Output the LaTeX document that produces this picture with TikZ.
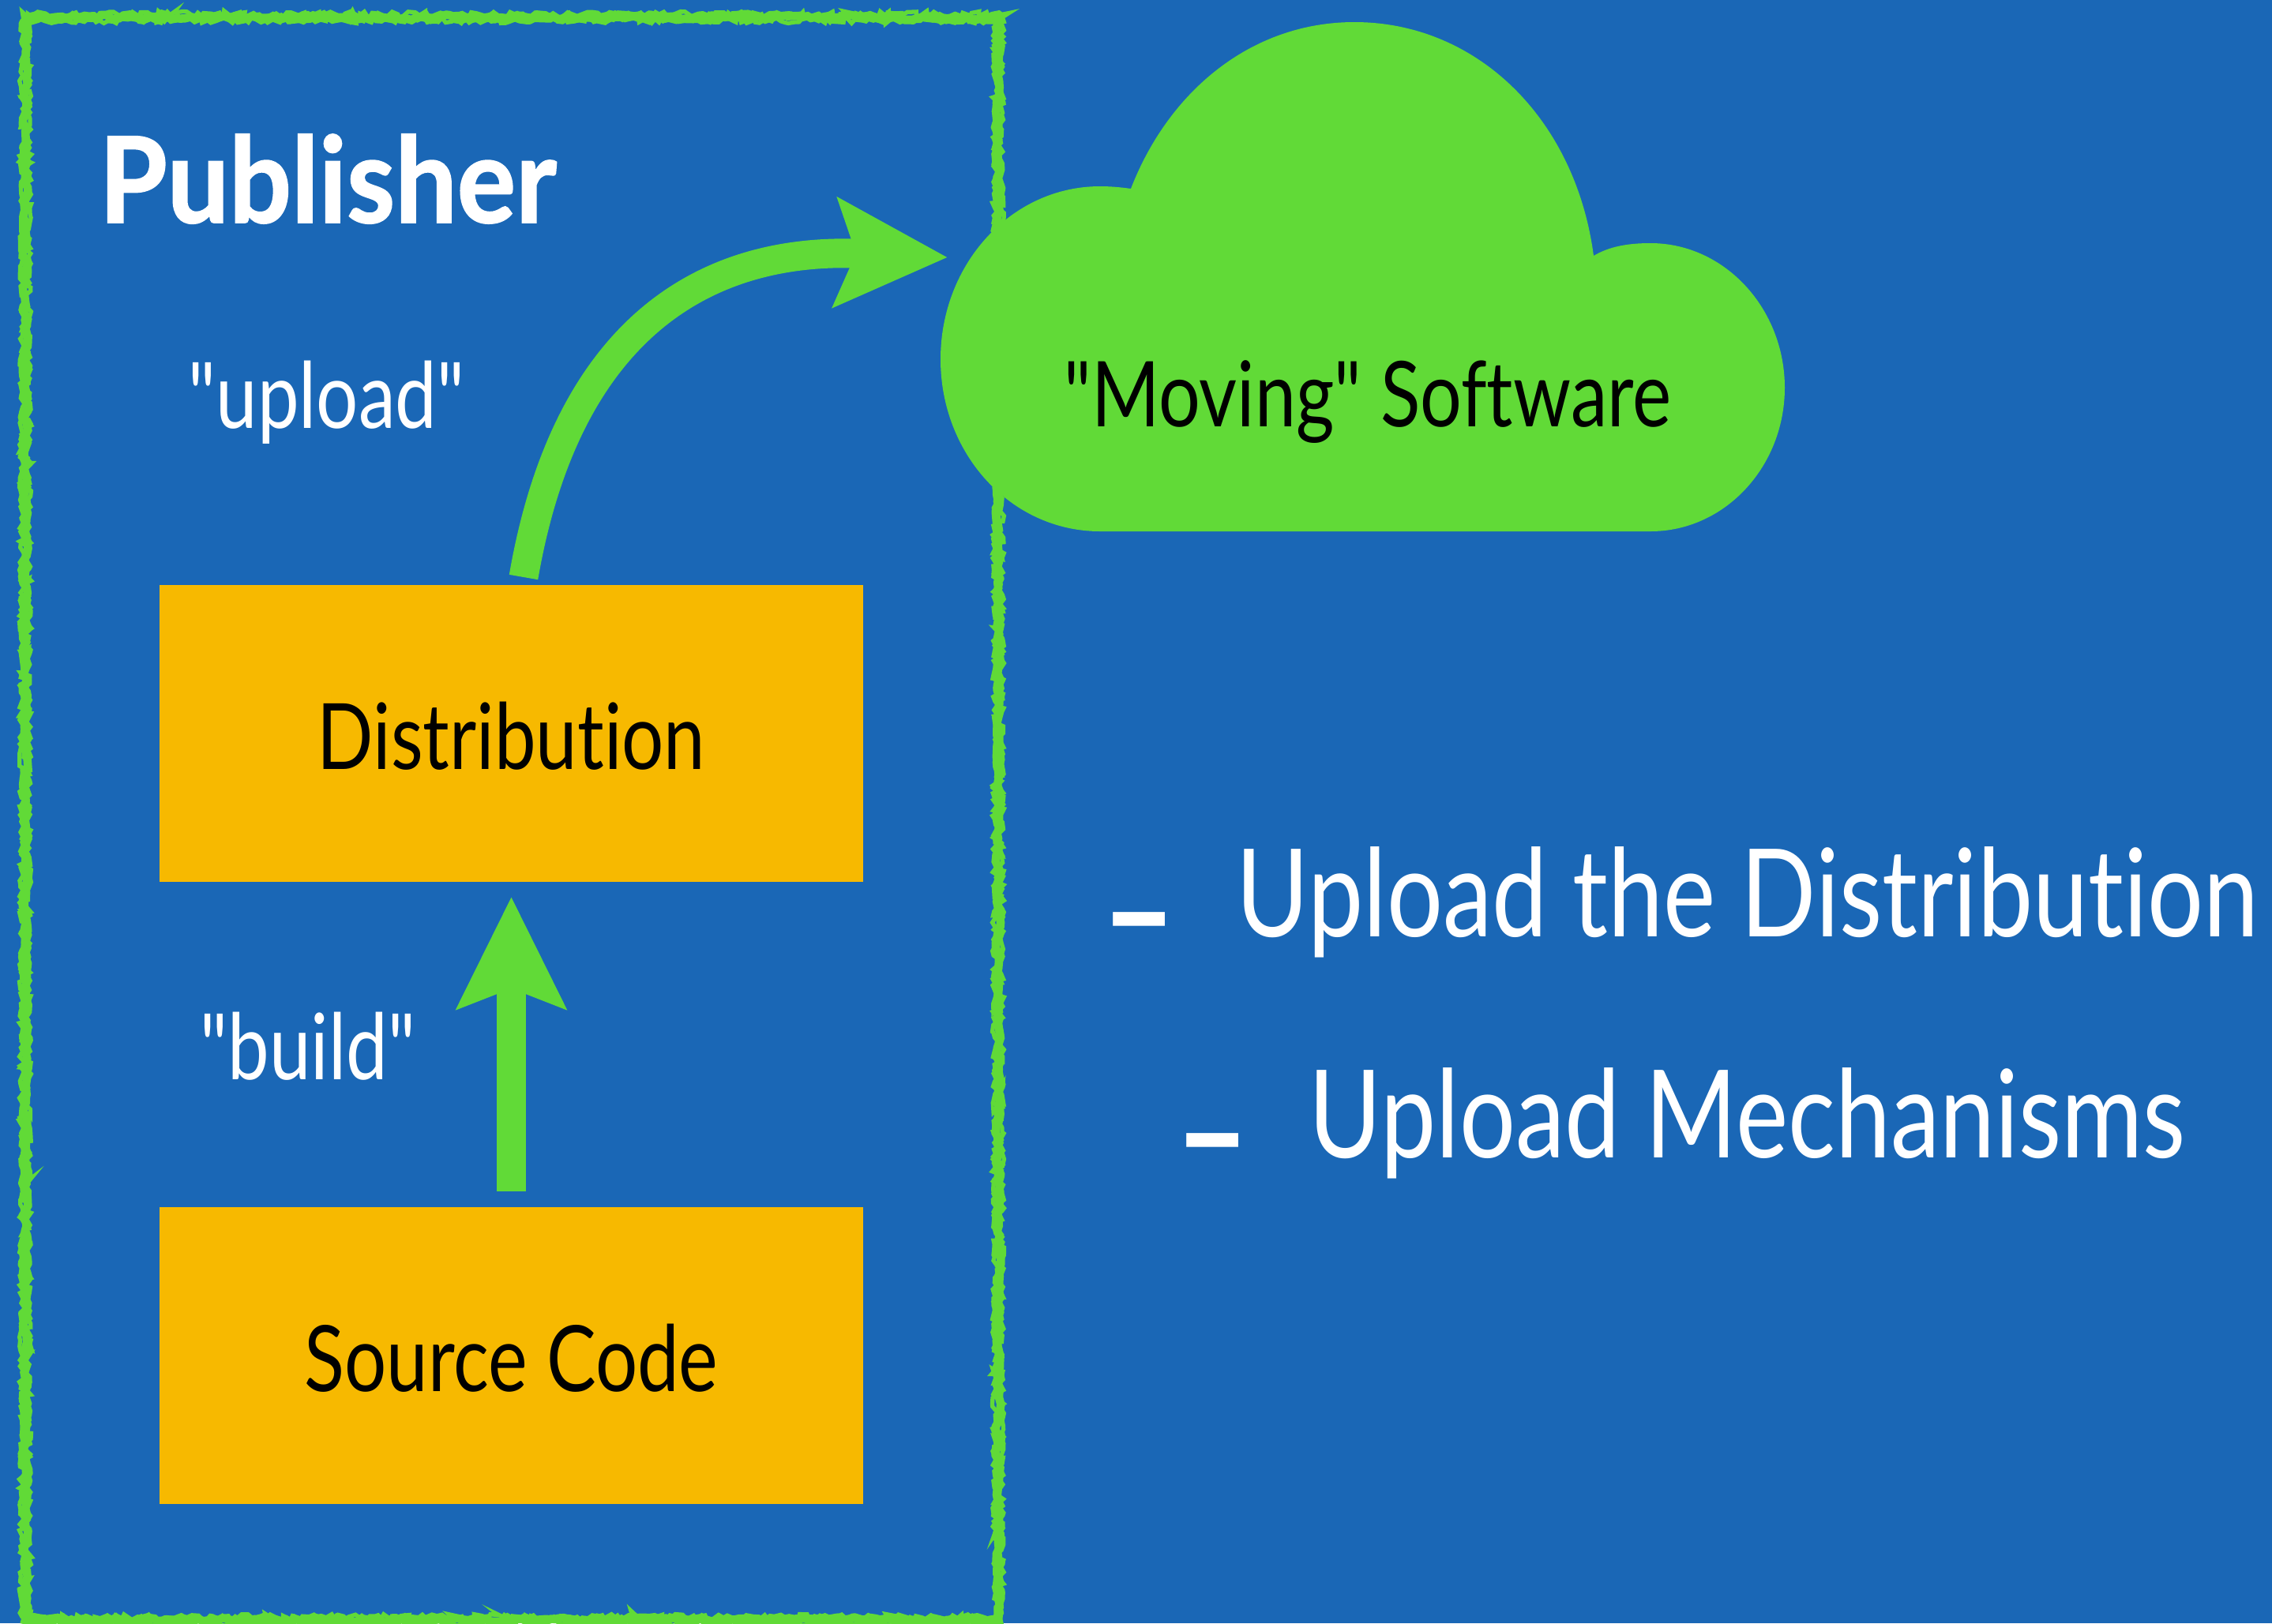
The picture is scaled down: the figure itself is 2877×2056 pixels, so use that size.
\documentclass[tikz,border=0pt]{standalone}
\usepackage{fontspec}
\setmainfont[FakeStretch=0.81,Ligatures={TeXOff,NoCommon}]{Lato}
\newfontfamily\titlefont[FakeStretch=0.92,FakeBold=1.2]{Lato Bold}
\usetikzlibrary{arrows.meta,decorations.pathmorphing}
\definecolor{slideblue}{HTML}{1A67B6}
\definecolor{flowgreen}{HTML}{61DA37}
\definecolor{boxamber}{HTML}{F7B900}

\tikzset{
    codebox/.style={fill=boxamber, minimum width=8.91cm, minimum height=3.76cm, inner sep=0pt, text=black, text height=30pt, text depth=4pt, font=\fontsize{33}{36}\selectfont},
    flow/.style={draw=flowgreen, line width=10.5pt, -{Stealth[length=40pt,width=38.5pt,inset=7pt,flowgreen]}},
    verb/.style={text=white, anchor=base west, inner sep=0pt, font=\fontsize{33}{36}\selectfont},
    point/.style={text=white, anchor=base west, inner sep=0pt, font=\fontsize{44}{46}\selectfont},
    dashmark/.style={text=white, anchor=base west, inner sep=0pt, font=\fontsize{57}{60}\selectfont\bfseries},
    chalk/.style={draw=flowgreen, decorate, decoration={random steps, segment length=1.5pt, amplitude=1pt}}
}

\begin{document}
\begin{tikzpicture}[x=0.01cm, y=-0.01cm]
\useasboundingbox (0,0) rectangle (2877,2056);
\fill[slideblue] (0,0) rectangle (2877,2056);

% Publisher frame
\pgfmathsetseed{7}
\draw[chalk, line width=3pt] (32,22) rectangle (1264,2052);
\draw[chalk, line width=1.5pt] (28,26) rectangle (1260,2048);
\draw[chalk, line width=1.5pt] (36,18) rectangle (1268,2056);

% Cloud
\fill[flowgreen] (1393,673) -- (2090,673)
    .. controls (2184,673) and (2260,591) .. (2260,491)
    .. controls (2260,391) and (2184,308) .. (2090,308)
    .. controls (2062,308) and (2038,312) .. (2018,324)
    .. controls (1995,150) and (1870,28) .. (1715,28)
    .. controls (1585,28) and (1480,115) .. (1432,239)
    .. controls (1418,237) and (1405,236) .. (1393,236)
    .. controls (1281,236) and (1191,334) .. (1191,455)
    .. controls (1191,576) and (1281,673) .. (1393,673) -- cycle;
\node[anchor=base west, inner sep=0pt, text=black, font=\fontsize{32.7}{36}\selectfont] (cloudtext) at (1347,540) {"Moving" Software};

% Title
\node[anchor=base west, inner sep=0pt, text=white, font=\fontsize{43}{46}\selectfont\titlefont] (publisher) at (125,282) {Publisher};

% Boxes
\node[codebox] (dist) at (647.5,929) {Distribution};
\node[codebox] (source) at (647.5,1717) {Source Code};

% Arrows
\coordinate (uploadstart) at (663,731);
\coordinate (uploadend) at (1200,326);
\draw[flow, shorten <=5.4pt, shorten >=5.1pt] (source.north) -- (dist.south);
\draw[flow] (uploadstart) .. controls (715,430) and (880,312) .. (uploadend);

% Labels
\node[verb] (upload) at (238,542) {"upload"};
\node[verb] (build) at (253,1367) {"build"};

% Points
\node[dashmark] (dashone) at (1395,1224) {–};
\node[point] (pointone) at (1565,1186) {Upload the Distribution};
\node[dashmark] (dashtwo) at (1488,1504) {–};
\node[point] (pointtwo) at (1657,1466) {Upload Mechanisms};
\end{tikzpicture}
\end{document}
